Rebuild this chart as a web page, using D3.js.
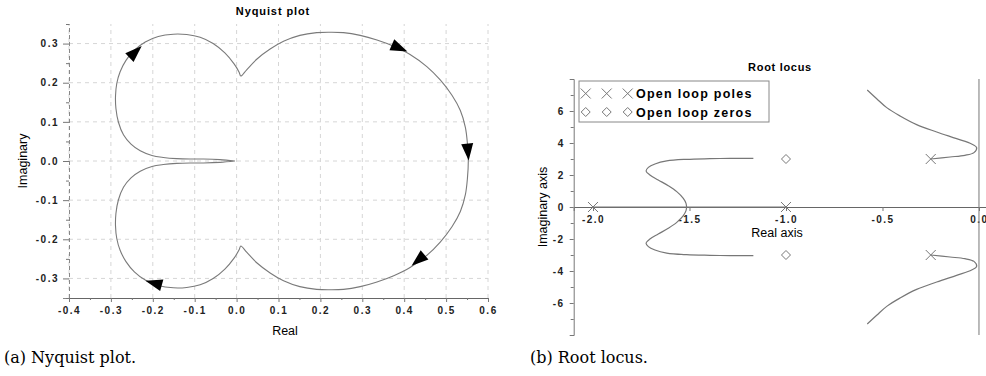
<!DOCTYPE html>
<html>
<head>
<meta charset="utf-8">
<script src="https://cdn.jsdelivr.net/npm/d3@7"></script>
<style>
  body { margin: 0; background: #fff; }
  svg { display: block; font-family: "Liberation Sans", Arial, sans-serif; }
  .tick text { font-weight: bold; font-size: 10px; letter-spacing: 1.5px; fill: #222; }
  .tick line { stroke: #777; }
</style>
</head>
<body>
<svg width="986" height="376"></svg>
<script>
// ---- Nyquist plot (upper half; the lower half is its mirror image) ----
// from the origin out along the sliver, round the left loop up to the cusp
const nyqUpperLeft = [
  [-0.004, 0.000], [-0.040, 0.0035], [-0.079, 0.005], [-0.111, 0.005], [-0.143, 0.006],
  [-0.175, 0.009], [-0.202, 0.014], [-0.230, 0.026], [-0.252, 0.043], [-0.270, 0.067],
  [-0.282, 0.099], [-0.288, 0.134], [-0.289, 0.166], [-0.286, 0.198], [-0.278, 0.228],
  [-0.264, 0.257], [-0.244, 0.283], [-0.218, 0.304], [-0.187, 0.318], [-0.151, 0.324],
  [-0.119, 0.323], [-0.087, 0.316], [-0.056, 0.300], [-0.028, 0.276], [-0.006, 0.248],
  [0.006, 0.227], [0.010, 0.217]
];
// from the cusp over the right lobe down to the real axis
const nyqUpperRight = [
  [0.024, 0.233], [0.048, 0.260], [0.080, 0.286], [0.112, 0.306], [0.151, 0.321],
  [0.191, 0.328], [0.223, 0.329], [0.255, 0.328], [0.295, 0.321], [0.335, 0.309],
  [0.375, 0.293], [0.414, 0.272], [0.454, 0.241], [0.486, 0.207], [0.514, 0.168],
  [0.534, 0.129], [0.546, 0.086], [0.551, 0.043], [0.553, 0.000]
];
const nyqArrows = [[-0.242, 0.278], [0.388, 0.289], [0.552, 0.024], [0.434, -0.253], [-0.197, -0.312]];
const nyqXTicks = [-0.4, -0.3, -0.2, -0.1, 0, 0.1, 0.2, 0.3, 0.4, 0.5, 0.6];
const nyqXLabels = ['-0.4', '-0.3', '-0.2', '-0.1', '0.0', '0.1', '0.2', '0.3', '0.4', '0.5', '0.6'];
const nyqYTicks = [-0.3, -0.2, -0.1, 0, 0.1, 0.2, 0.3];
const nyqYLabels = ['-0.3', '-0.2', '-0.1', '0.0', '0.1', '0.2', '0.3'];

// ---- Root locus ----
const rlPoles = [[-2, 0], [-1, 0], [-0.25, 3], [-0.25, -3]];
const rlZeros = [[-1, 3], [-1, -3]];
const rlRealSegments = [[[-2, 0], [-1.515, 0]], [[-1, 0], [-1.515, 0]]];
// upper branches, mirrored below the real axis
const rlBranchLeft = [
  [-1.515, 0], [-1.518, 0.23], [-1.532, 0.54], [-1.566, 0.96], [-1.610, 1.33],
  [-1.662, 1.69], [-1.705, 2.00], [-1.725, 2.25], [-1.713, 2.48], [-1.679, 2.69],
  [-1.618, 2.88], [-1.515, 2.98], [-1.394, 3.02], [-1.290, 3.04], [-1.169, 3.04]
];
const rlBranchRight = [
  [-0.25, 3.00], [-0.150, 3.125], [-0.073, 3.23], [-0.026, 3.40], [-0.012, 3.71],
  [-0.038, 3.94], [-0.116, 4.27], [-0.219, 4.69], [-0.323, 5.15], [-0.409, 5.69],
  [-0.478, 6.21], [-0.530, 6.77], [-0.579, 7.31]
];
const rlXTicks = [-2, -1.5, -1, -0.5, 0];
const rlXLabels = ['-2.0', '-1.5', '-1.0', '-0.5', '0.0'];
const rlYTicks = [-6, -4, -2, 0, 2, 4, 6];
const rlYLabels = ['-6', '-4', '-2', '0', '2', '4', '6'];
const rlYMinor = [-7, -5, -3, -1, 1, 3, 5, 7];
const legendItems = ['Open loop poles', 'Open loop zeros'];

const svg = d3.select('svg');
const mirror = pts => pts.map(([r, i]) => [r, -i]);

// ================= Nyquist =================
const nx = d3.scaleLinear().domain([-0.4, 0.6]).range([69, 488]);
const ny = d3.scaleLinear().domain([-0.35, 0.35]).range([298, 24]);
const gN = svg.append('g');

// dashed grid
gN.selectAll('line.vgrid').data(nyqXTicks).enter().append('line')
  .attr('x1', d => nx(d)).attr('x2', d => nx(d))
  .attr('y1', ny(-0.35)).attr('y2', ny(0.35))
  .attr('stroke', '#d6d6d6').attr('stroke-dasharray', '4,4');
gN.selectAll('line.hgrid').data(nyqYTicks).enter().append('line')
  .attr('x1', nx(-0.4)).attr('x2', nx(0.6))
  .attr('y1', d => ny(d)).attr('y2', d => ny(d))
  .attr('stroke', '#d6d6d6').attr('stroke-dasharray', '4,4');

const nyqMinorX = nyqXTicks.slice(0, -1).map(d => +(d + 0.05).toFixed(2));
const nyqMinorY = [-0.35].concat(nyqYTicks.map(d => +(d + 0.05).toFixed(2)));

gN.append('g').attr('transform', `translate(0,${ny(-0.35)})`)
  .call(d3.axisBottom(nx).tickValues(nyqXTicks).tickSize(4).tickPadding(5)
    .tickFormat((d, i) => nyqXLabels[i]))
  .call(g => g.select('.domain').attr('stroke', '#666'));
gN.append('g').attr('transform', `translate(0,${ny(-0.35)})`)
  .call(d3.axisBottom(nx).tickValues(nyqMinorX).tickSize(2).tickFormat(''))
  .call(g => g.select('.domain').remove());

gN.append('g').attr('transform', `translate(${nx(-0.4)},0)`)
  .call(d3.axisLeft(ny).tickValues(nyqYTicks).tickSize(6).tickPadding(4)
    .tickFormat((d, i) => nyqYLabels[i]))
  .call(g => g.select('.domain').attr('stroke', '#888').attr('stroke-dasharray', '4,3'));
gN.append('g').attr('transform', `translate(${nx(-0.4)},0)`)
  .call(d3.axisLeft(ny).tickValues(nyqMinorY).tickSize(3).tickFormat(''))
  .call(g => g.select('.domain').remove());

// curve: upper half then its mirror traversed back to the origin
const upper = nyqUpperLeft.concat(nyqUpperRight);
const nyqFull = upper.concat(mirror(upper).reverse().slice(1));
const nyqLine = d3.line().x(d => nx(d[0])).y(d => ny(d[1])).curve(d3.curveCatmullRom.alpha(0.5));
gN.append('path').datum(nyqFull).attr('d', nyqLine)
  .attr('fill', 'none').attr('stroke', '#7a7a7a').attr('stroke-width', 1.1);

// direction arrows
const fullPx = nyqFull.map(([r, i]) => [nx(r), ny(i)]);
nyqArrows.forEach(([r, i]) => {
  const px = nx(r), py = ny(i);
  let best = 1, bd = Infinity;
  for (let k = 1; k < fullPx.length - 1; k++) {
    const d = (fullPx[k][0] - px) ** 2 + (fullPx[k][1] - py) ** 2;
    if (d < bd) { bd = d; best = k; }
  }
  const dx = fullPx[best + 1][0] - fullPx[best - 1][0];
  const dy = fullPx[best + 1][1] - fullPx[best - 1][1];
  const ang = Math.atan2(dy, dx) * 180 / Math.PI;
  gN.append('path').attr('d', 'M9,0L-8,-6L-8,6Z')
    .attr('transform', `translate(${px},${py}) rotate(${ang})`)
    .attr('fill', '#000');
});

gN.append('text').attr('x', 273).attr('y', 15).attr('text-anchor', 'middle')
  .attr('font-size', 11).attr('font-weight', 'bold').attr('letter-spacing', 0.9)
  .text('Nyquist plot');
gN.append('text').attr('x', 285).attr('y', 335).attr('text-anchor', 'middle')
  .attr('font-size', 12.5).text('Real');
gN.append('text').attr('transform', 'translate(27,161) rotate(-90)').attr('text-anchor', 'middle')
  .attr('font-size', 12.5).text('Imaginary');

// ================= Root locus =================
const rx = d3.scaleLinear().domain([-2.1, 0.04]).range([573.7, 986.7]);
const ry = d3.scaleLinear().domain([-8, 8]).range([335, 79]);
const gR = svg.append('g');

gR.append('g').attr('transform', `translate(0,${ry(0)})`)
  .call(d3.axisBottom(rx).tickValues(rlXTicks).tickSize(4).tickPadding(5)
    .tickFormat((d, i) => rlXLabels[i]))
  .call(g => g.select('.domain').attr('stroke', '#666'));
gR.append('g').attr('transform', `translate(${rx(-2.1)},0)`)
  .call(d3.axisLeft(ry).tickValues(rlYTicks).tickSize(4).tickPadding(5)
    .tickFormat((d, i) => rlYLabels[i]))
  .call(g => g.select('.domain').attr('stroke', '#777'));
gR.append('g').attr('transform', `translate(${rx(-2.1)},0)`)
  .call(d3.axisLeft(ry).tickValues(rlYMinor).tickSize(3).tickFormat(''))
  .call(g => g.select('.domain').remove());

// imaginary axis line
gR.append('line').attr('x1', rx(0)).attr('x2', rx(0)).attr('y1', ry(8)).attr('y2', ry(-8))
  .attr('stroke', '#777');

const rlLine = d3.line().x(d => rx(d[0])).y(d => ry(d[1])).curve(d3.curveCatmullRom.alpha(0.5));
const branches = rlRealSegments.concat([rlBranchLeft, mirror(rlBranchLeft), rlBranchRight, mirror(rlBranchRight)]);
gR.selectAll('path.branch').data(branches).enter().append('path')
  .attr('class', 'branch').attr('d', rlLine)
  .attr('fill', 'none').attr('stroke', '#777').attr('stroke-width', 1.2);

const crossPath = 'M-5,-5L5,5M-5,5L5,-5';
const diamondPath = 'M0,-4.5L4.5,0L0,4.5L-4.5,0Z';
gR.selectAll('path.pole').data(rlPoles).enter().append('path')
  .attr('d', crossPath).attr('transform', d => `translate(${rx(d[0])},${ry(d[1])})`)
  .attr('fill', 'none').attr('stroke', '#777');
gR.selectAll('path.zero').data(rlZeros).enter().append('path')
  .attr('d', diamondPath).attr('transform', d => `translate(${rx(d[0])},${ry(d[1])})`)
  .attr('fill', '#fff').attr('stroke', '#777');

// legend
const lg = gR.append('g').attr('transform', 'translate(579,81)');
lg.append('rect').attr('width', 190).attr('height', 41)
  .attr('fill', '#fff').attr('stroke', '#888');
legendItems.forEach((label, i) => {
  const row = lg.append('g').attr('transform', `translate(0,${12.5 + i * 18.5})`);
  [6.7, 27.7, 48.7].forEach(mx => {
    row.append('path').attr('d', i === 0 ? crossPath : diamondPath)
      .attr('transform', `translate(${mx},0)`)
      .attr('fill', '#fff').attr('stroke', '#777');
  });
  row.append('text').attr('x', 57).attr('y', 4.5)
    .attr('font-size', 12.5).attr('font-weight', 'bold').attr('letter-spacing', 1.25)
    .text(label);
});

gR.append('text').attr('x', 780).attr('y', 70.5).attr('text-anchor', 'middle')
  .attr('font-size', 11).attr('font-weight', 'bold').attr('letter-spacing', 0.7)
  .text('Root locus');
gR.append('text').attr('x', 777).attr('y', 237).attr('text-anchor', 'middle')
  .attr('font-size', 12.5).text('Real axis');
gR.append('text').attr('transform', `translate(547,${ry(0)}) rotate(-90)`).attr('text-anchor', 'middle')
  .attr('font-size', 12.5).text('Imaginary axis');

// captions
svg.append('text').attr('x', 4).attr('y', 363)
  .attr('font-family', '"DejaVu Serif", serif').attr('font-size', 16)
  .text('(a) Nyquist plot.');
svg.append('text').attr('x', 530).attr('y', 363)
  .attr('font-family', '"DejaVu Serif", serif').attr('font-size', 16)
  .text('(b) Root locus.');
</script>
</body>
</html>
